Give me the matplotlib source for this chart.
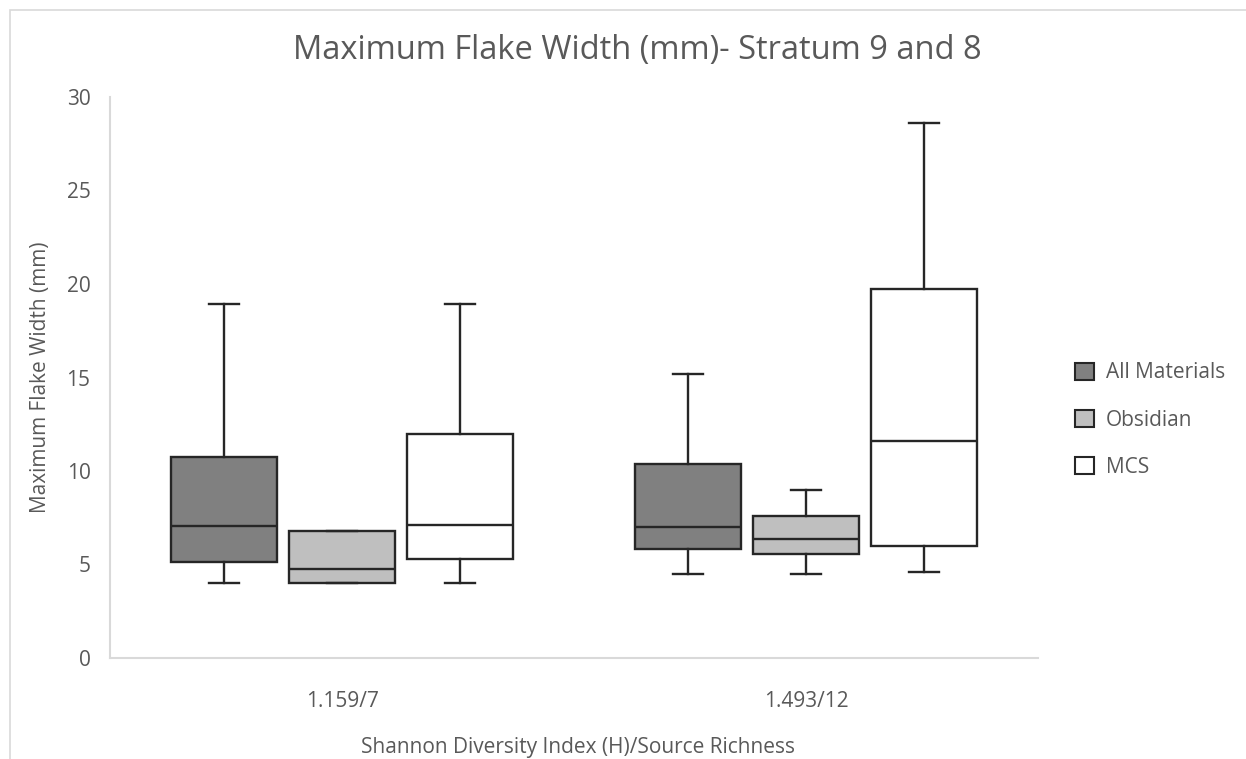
import matplotlib
matplotlib.use("Agg")
import matplotlib.pyplot as plt
from matplotlib.patches import Patch, Rectangle

# x categories: Shannon index / source richness
categories = ["1.159/7", "1.493/12"]
series = ["All Materials", "Obsidian", "MCS"]
fills = ["#808080", "#bfbfbf", "#ffffff"]

# five-number summaries (mm), per series, per category
whislo = {"All Materials": [4.0, 4.5], "Obsidian": [4.0, 4.5], "MCS": [4.0, 4.6]}
q1 = {"All Materials": [5.15, 5.85], "Obsidian": [4.0, 5.55], "MCS": [5.3, 6.0]}
med = {"All Materials": [7.08, 6.98], "Obsidian": [4.78, 6.38], "MCS": [7.12, 11.6]}
q3 = {"All Materials": [10.75, 10.37], "Obsidian": [6.8, 7.62], "MCS": [12.0, 19.75]}
whishi = {"All Materials": [18.95, 15.2], "Obsidian": [6.8, 9.0], "MCS": [18.95, 28.6]}

GRAY = "#595959"
EDGE = "#262626"
plt.rcParams["font.family"] = ["Open Sans", "DejaVu Sans"]

fig = plt.figure(figsize=(12.46, 7.59), dpi=100)
ax = fig.add_axes([110 / 1246, 1 - 658 / 759, (1038 - 110) / 1246, (658 - 97) / 759])

# chart frame
fig.patches.append(Rectangle((10 / 1246, -0.01), 1.1, 1 - 10 / 759 + 0.01,
                             transform=fig.transFigure, fill=False,
                             edgecolor="#d9d9d9", linewidth=1.2))

width = 106 / 464
step = 118 / 464
for i, s in enumerate(series):
    stats = []
    for j, c in enumerate(categories):
        stats.append(dict(whislo=whislo[s][j], q1=q1[s][j], med=med[s][j],
                          q3=q3[s][j], whishi=whishi[s][j], fliers=[]))
    pos = [j + (i - 1) * step for j in range(len(categories))]
    ax.bxp(stats, positions=pos, widths=width, patch_artist=True,
           showfliers=False, manage_ticks=False,
           boxprops=dict(facecolor=fills[i], edgecolor=EDGE, linewidth=1.7),
           medianprops=dict(color=EDGE, linewidth=1.7),
           whiskerprops=dict(color=EDGE, linewidth=1.7),
           capprops=dict(color=EDGE, linewidth=1.7),
           capwidths=30 / 464)

ax.set_xlim(-0.5, len(categories) - 0.5)
ax.set_ylim(0, 30)
ax.set_yticks(range(0, 31, 5))
ax.set_xticks(range(len(categories)))
ax.set_xticklabels(categories)
ax.tick_params(axis="both", length=0, labelsize=15, colors=GRAY, pad=14)
ax.tick_params(axis="x", pad=24)

for side in ["top", "right"]:
    ax.spines[side].set_visible(False)
for side in ["left", "bottom"]:
    ax.spines[side].set_color("#d9d9d9")
    ax.spines[side].set_linewidth(1.5)

ax.set_ylabel("Maximum Flake Width (mm)", fontsize=15, color=GRAY)
ax.yaxis.set_label_coords((51 - 110) / 928, 0.5)
ax.set_xlabel("Shannon Diversity Index (H)/Source Richness", fontsize=15, color=GRAY)
ax.xaxis.set_label_coords(0.504, (658 - 737) / 561)
fig.text(0.5 + 14 / 1246, 1 - 50 / 759, "Maximum Flake Width (mm)- Stratum 9 and 8",
         ha="center", va="center", fontsize=23.5, color=GRAY)

handles = [Patch(facecolor=f, edgecolor=EDGE, linewidth=1.5) for f in fills]
fig.legend(handles, series, loc="center left", bbox_to_anchor=(1056 / 1246, 1 - 420 / 759),
           frameon=False, fontsize=15, labelcolor=GRAY, handlelength=0.9,
           handleheight=0.9, labelspacing=1.25, handletextpad=0.6)

fig.savefig("out.png", dpi=100)
